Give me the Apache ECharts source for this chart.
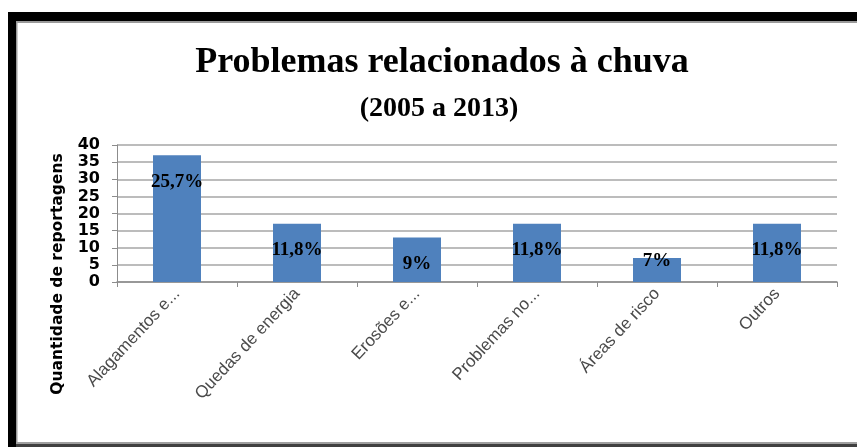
<!DOCTYPE html>
<html>
<head>
<meta charset="utf-8">
<script src="https://cdn.jsdelivr.net/npm/echarts@6/dist/echarts.min.js"></script>
<style>
html,body{margin:0;padding:0;background:#fff;}
#chart{width:857px;height:447px;}
</style>
</head>
<body>
<div id="chart"></div>
<script>
const titleText = 'Problemas relacionados à chuva';
const subtitleText = '(2005 a 2013)';
const yAxisName = 'Quantidade de reportagens';
const categories = ['Alagamentos e...', 'Quedas de energia', 'Erosões e...', 'Problemas no...', 'Áreas de risco', 'Outros'];
const values = [37, 17, 13, 17, 7, 17];
const percentLabels = ['25,7%', '11,8%', '9%', '11,8%', '7%', '11,8%'];
const yMin = 0, yMax = 40, yStep = 5;

const chart = echarts.init(document.getElementById('chart'), null, {renderer: 'canvas'});

const seriesData = values.map((v, i) => {
  const item = {value: v};
  if (v < 10) {
    item.label = {position: 'insideTop', distance: 0, offset: [0, -6]};
  }
  return item;
});

const option = {
  backgroundColor: '#ffffff',
  animation: false,
  title: [
    {
      text: titleText,
      left: 437, top: 40, textAlign: 'center',
      textStyle: {fontFamily: 'Liberation Serif', fontWeight: 'bold', fontSize: 36, color: '#000'}
    },
    {
      text: subtitleText,
      left: 434, top: 90, textAlign: 'center',
      textStyle: {fontFamily: 'Liberation Serif', fontWeight: 'bold', fontSize: 28, color: '#000'}
    }
  ],
  grid: {left: 117, right: 20, top: 145, bottom: 165, containLabel: false},
  xAxis: {
    type: 'category',
    data: categories,
    boundaryGap: true,
    axisLine: {show: true, lineStyle: {color: '#8c8c8c', width: 1.5}},
    axisTick: {show: true, alignWithLabel: false, length: 5, lineStyle: {color: '#8c8c8c'}},
    axisLabel: {
      rotate: 47, interval: 0, margin: 9,
      fontFamily: 'Liberation Sans', fontSize: 17, color: '#4a4a4a'
    }
  },
  yAxis: {
    type: 'value',
    min: yMin, max: yMax, interval: yStep,
    axisLine: {show: true, lineStyle: {color: '#8c8c8c', width: 1}},
    axisTick: {show: true, length: 5, lineStyle: {color: '#8c8c8c'}},
    splitLine: {show: true, lineStyle: {color: '#a6a6a6', width: 1.5}},
    axisLabel: {
      margin: 17, fontFamily: 'DejaVu Sans', fontWeight: 'bold', fontSize: 16, color: '#000'
    }
  },
  series: [{
    type: 'bar',
    data: seriesData,
    barWidth: '40%',
    itemStyle: {color: '#4f81bd'},
    label: {
      show: true,
      position: 'insideTop',
      distance: 17,
      formatter: p => percentLabels[p.dataIndex],
      fontFamily: 'Liberation Serif', fontWeight: 'bold', fontSize: 19, color: '#000'
    }
  }],
  graphic: [
    {type: 'rect', shape: {x: 8, y: 12, width: 849, height: 9}, style: {fill: '#000'}, silent: true, z: 100},
    {type: 'rect', shape: {x: 8, y: 12, width: 8, height: 435}, style: {fill: '#000'}, silent: true, z: 100},
    {type: 'rect', shape: {x: 16, y: 21, width: 841, height: 2}, style: {fill: '#9a9a9a'}, silent: true, z: 100},
    {type: 'rect', shape: {x: 16, y: 21, width: 1.5, height: 426}, style: {fill: '#9a9a9a'}, silent: true, z: 100},
    {type: 'rect', shape: {x: 16, y: 442, width: 841, height: 2}, style: {fill: '#a0a0a0'}, silent: true, z: 100},
    {type: 'rect', shape: {x: 16, y: 444, width: 841, height: 3}, style: {fill: '#404040'}, silent: true, z: 100},
    {
      type: 'text', x: 58, y: 274, rotation: Math.PI / 2, silent: true, z: 100,
      style: {
        text: yAxisName, textAlign: 'center', textVerticalAlign: 'middle',
        font: 'bold 15.5px "DejaVu Sans"', fill: '#000'
      }
    }
  ]
};
chart.setOption(option);
</script>
</body>
</html>
